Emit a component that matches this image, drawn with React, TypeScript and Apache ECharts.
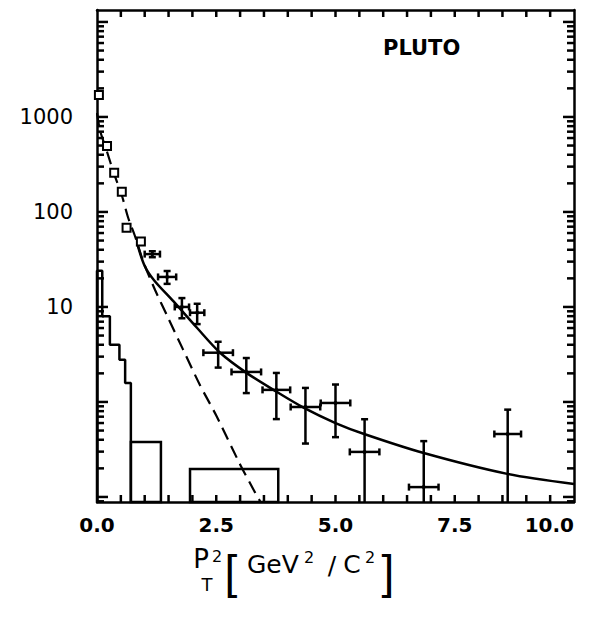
import React, { useEffect, useRef } from "react";
import * as echarts from "echarts";

// ---- axis ranges ----
const X_MIN = 0;
const X_MAX = 10;
const Y_MIN = 0.0885;
const Y_MAX = 13360;
const X_LABEL_STEP = 2.5;
const X_TICK_STEP = 0.5;
const Y_LABELS = [10, 100, 1000];

// ---- open squares (low pT^2 points) ----
const squareX = [0.04, 0.21, 0.36, 0.52, 0.62, 0.92];
const squareY = [1700, 495, 258, 163, 68, 49];

// ---- crosses (data with x/y errors) ----
const crossX = [1.16, 1.47, 1.78, 2.1, 2.54, 3.13, 3.76, 4.37, 5.0, 5.61, 6.85, 8.61];
const crossY = [36, 20.7, 10, 8.7, 3.3, 2.07, 1.34, 0.885, 0.976, 0.298, 0.127, 0.46];
const crossXErr = [0.16, 0.19, 0.15, 0.15, 0.31, 0.31, 0.29, 0.31, 0.31, 0.31, 0.31, 0.28];
const crossYErr = [2.6, 3.2, 2.4, 2.1, 1.0, 0.83, 0.68, 0.52, 0.55, 0.36, 0.26, 0.37];

// ---- dashed curve ----
const dashedX = [0, 0.06, 0.21, 0.36, 0.52, 0.65, 0.8, 0.97, 1.22, 1.5, 1.8, 2.16, 2.5, 3.0, 3.32, 3.42];
const dashedY = [1100, 730, 430, 250, 150, 88, 55, 30, 15, 7.5, 3.6, 1.5, 0.72, 0.22, 0.11, 0.09];

// ---- solid curve ----
const solidX = [0.85, 1.0, 1.2, 1.6, 2.1, 2.58, 3.15, 3.7, 4.35, 5.0, 5.6, 6.85, 8.6, 10];
const solidY = [45, 27, 19, 11.5, 6.0, 3.3, 2.0, 1.34, 0.86, 0.6, 0.46, 0.29, 0.175, 0.137];

// ---- stepped histogram ----
const histEdges = [0, 0.11, 0.27, 0.47, 0.59, 0.71];
const histValues = [24, 8, 4, 2.78, 1.58];

// ---- histogram boxes ----
const boxLo = [0.71, 1.95];
const boxHi = [1.34, 3.8];
const boxVal = [0.38, 0.197];

const FONT = "DejaVu Sans";
const THIN = "Liberation Sans";

export default function App() {
  const ref = useRef<HTMLDivElement>(null);

  useEffect(() => {
    const chart = echarts.init(ref.current!, null, { renderer: "svg" });

    const histLine: number[][] = [[histEdges[0], Y_MIN]];
    for (let i = 0; i < histValues.length; i++) {
      histLine.push([histEdges[i], histValues[i]]);
      histLine.push([histEdges[i + 1], histValues[i]]);
    }
    histLine.push([histEdges[histEdges.length - 1], Y_MIN]);

    // y tick items: [x, value, length] (decades long, 2..9 short) drawn on left + right frame
    const yTicks: number[][] = [];
    for (let e = -2; e <= 5; e++) {
      for (let k = 1; k <= 9; k++) {
        const v = k * Math.pow(10, e);
        if (v > Y_MIN && v < Y_MAX) yTicks.push([5, v, k === 1 ? 11 : 7]);
      }
    }
    // x tick items: [value, y, length] drawn on bottom + top frame
    const xTicks: number[][] = [];
    const nx = Math.round((X_MAX - X_MIN) / X_TICK_STEP);
    for (let i = 1; i < nx; i++) xTicks.push([X_MIN + i * X_TICK_STEP, 1, 7]);

    const black = "#000";
    const xCommon: any = {
      type: "value",
      min: X_MIN,
      max: X_MAX,
      interval: X_LABEL_STEP,
      splitLine: { show: false },
      axisLine: { show: true, onZero: false, lineStyle: { color: black, width: 2.5 } },
      axisTick: { show: false },
    };
    const yCommon: any = {
      type: "log",
      logBase: 10,
      min: Y_MIN,
      max: Y_MAX,
      splitLine: { show: false },
      axisLine: { show: true, onZero: false, lineStyle: { color: black, width: 2.5 } },
      axisTick: { show: false },
    };

    const isLabelled = (v: number) =>
      Y_LABELS.some((l) => Math.abs(Math.log10(v) - Math.log10(l)) < 1e-6);

    const txt = (x: number, y: number, text: string, size: number, family = FONT, align = "center") => ({
      type: "text",
      x,
      y,
      style: { text, fontFamily: family, fontSize: size, fill: black, align, verticalAlign: "middle" },
    });

    const tickStyle = { stroke: black, lineWidth: 2.5 };

    const option: any = {
      animation: false,
      backgroundColor: "#fff",
      grid: { left: 97, top: 10, width: 477, height: 492 },
      xAxis: [
        {
          ...xCommon,
          position: "bottom",
          axisLabel: {
            show: true,
            margin: 13,
            color: black,
            fontFamily: FONT,
            fontSize: 20,
            fontWeight: "bold",
            alignMaxLabel: "right",
            formatter: (v: number) => v.toFixed(1),
          },
        },
        { ...xCommon, position: "top", axisLabel: { show: false } },
      ],
      yAxis: [
        {
          ...yCommon,
          position: "left",
          axisLabel: {
            show: true,
            margin: 24,
            color: black,
            fontFamily: FONT,
            fontSize: 21,
            formatter: (v: number) => (isLabelled(v) ? String(Math.round(v)) : ""),
          },
        },
        { ...yCommon, position: "right", axisLabel: { show: false } },
      ],
      graphic: [
        {
          type: "text",
          left: 383,
          top: 37,
          style: { text: "PLUTO", fontFamily: FONT, fontSize: 21, fontWeight: "bold", fill: black },
        },
        txt(201, 559, "P", 26),
        txt(217, 556, "2", 16),
        txt(207, 584, "T", 18),
        txt(231, 572, "[", 46, THIN),
        txt(247, 564, "GeV", 25, FONT, "left"),
        txt(309, 557, "2", 16),
        txt(332, 565, "/", 25),
        txt(352, 564, "C", 25),
        txt(370, 557, "2", 16),
        txt(388, 572, "]", 46, THIN),
      ],
      series: [
        {
          name: "histogram",
          type: "line",
          data: histLine,
          symbol: "none",
          lineStyle: { color: black, width: 2.5 },
          z: 2,
        },
        {
          name: "histogram boxes",
          type: "custom",
          data: boxLo.map((lo, i) => [lo, boxHi[i], boxVal[i]]),
          encode: { x: [0, 1], y: 2 },
          renderItem: (_p: any, api: any) => {
            const a = api.coord([api.value(0), api.value(2)]);
            const b = api.coord([api.value(1), Y_MIN]);
            return {
              type: "rect",
              shape: { x: a[0], y: a[1], width: b[0] - a[0], height: b[1] - a[1] },
              style: { fill: "none", stroke: black, lineWidth: 2.5 },
            };
          },
          z: 2,
        },
        {
          name: "dashed",
          type: "line",
          data: dashedX.map((x, i) => [x, dashedY[i]]),
          symbol: "none",
          smooth: 0.25,
          lineStyle: { color: black, width: 2.2, type: [13, 7] },
          z: 3,
        },
        {
          name: "solid",
          type: "line",
          data: solidX.map((x, i) => [x, solidY[i]]),
          symbol: "none",
          smooth: 0.3,
          lineStyle: { color: black, width: 2.5 },
          z: 3,
        },
        {
          name: "y ticks",
          type: "custom",
          data: yTicks,
          encode: { x: 0, y: 1 },
          renderItem: (_p: any, api: any) => {
            const v = api.value(1);
            const len = api.value(2);
            const a = api.coord([X_MIN, v]);
            const b = api.coord([X_MAX, v]);
            return {
              type: "group",
              children: [
                { type: "line", shape: { x1: a[0], y1: a[1], x2: a[0] + len, y2: a[1] }, style: tickStyle },
                { type: "line", shape: { x1: b[0] - len, y1: b[1], x2: b[0], y2: b[1] }, style: tickStyle },
              ],
            };
          },
          z: 4,
        },
        {
          name: "x ticks",
          type: "custom",
          data: xTicks,
          encode: { x: 0, y: 1 },
          renderItem: (_p: any, api: any) => {
            const v = api.value(0);
            const len = api.value(2);
            const a = api.coord([v, Y_MIN]);
            const b = api.coord([v, Y_MAX]);
            return {
              type: "group",
              children: [
                { type: "line", shape: { x1: a[0], y1: a[1], x2: a[0], y2: a[1] - len }, style: tickStyle },
                { type: "line", shape: { x1: b[0], y1: b[1], x2: b[0], y2: b[1] + len }, style: tickStyle },
              ],
            };
          },
          z: 4,
        },
        {
          name: "crosses",
          type: "custom",
          data: crossX.map((x, i) => [x, crossY[i], crossXErr[i], crossYErr[i]]),
          encode: { x: 0, y: 1 },
          renderItem: (_p: any, api: any) => {
            const x = api.value(0);
            const y = api.value(1);
            const xe = api.value(2);
            const ye = api.value(3);
            const c = api.coord([x, y]);
            const l = api.coord([x - xe, y]);
            const r = api.coord([x + xe, y]);
            const t = api.coord([x, y + ye]);
            const clipped = y - ye <= Y_MIN * 1.05;
            const b = api.coord([x, clipped ? Y_MIN : y - ye]);
            const cap = 3.5;
            const st = { stroke: black, lineWidth: 2.5 };
            const ch: any[] = [
              { type: "line", shape: { x1: l[0], y1: c[1], x2: r[0], y2: c[1] }, style: st },
              { type: "line", shape: { x1: c[0], y1: t[1], x2: c[0], y2: b[1] }, style: st },
              { type: "line", shape: { x1: l[0], y1: c[1] - cap, x2: l[0], y2: c[1] + cap }, style: st },
              { type: "line", shape: { x1: r[0], y1: c[1] - cap, x2: r[0], y2: c[1] + cap }, style: st },
              { type: "line", shape: { x1: c[0] - cap, y1: t[1], x2: c[0] + cap, y2: t[1] }, style: st },
              { type: "circle", shape: { cx: c[0], cy: c[1], r: 2 }, style: { fill: black } },
            ];
            if (!clipped) {
              ch.push({ type: "line", shape: { x1: c[0] - cap, y1: b[1], x2: c[0] + cap, y2: b[1] }, style: st });
            }
            return { type: "group", children: ch };
          },
          z: 4,
        },
        {
          name: "squares",
          type: "scatter",
          data: squareX.map((x, i) => [x, squareY[i]]),
          symbol: "rect",
          symbolSize: 8,
          itemStyle: { color: "#fff", borderColor: black, borderWidth: 2, opacity: 1 },
          z: 5,
        },
      ],
    };

    chart.setOption(option);
    return () => chart.dispose();
  }, []);

  return (
    <div
      ref={ref}
      style={{ position: "absolute", left: 0, top: 0, width: 598, height: 622, background: "#fff" }}
    />
  );
}
